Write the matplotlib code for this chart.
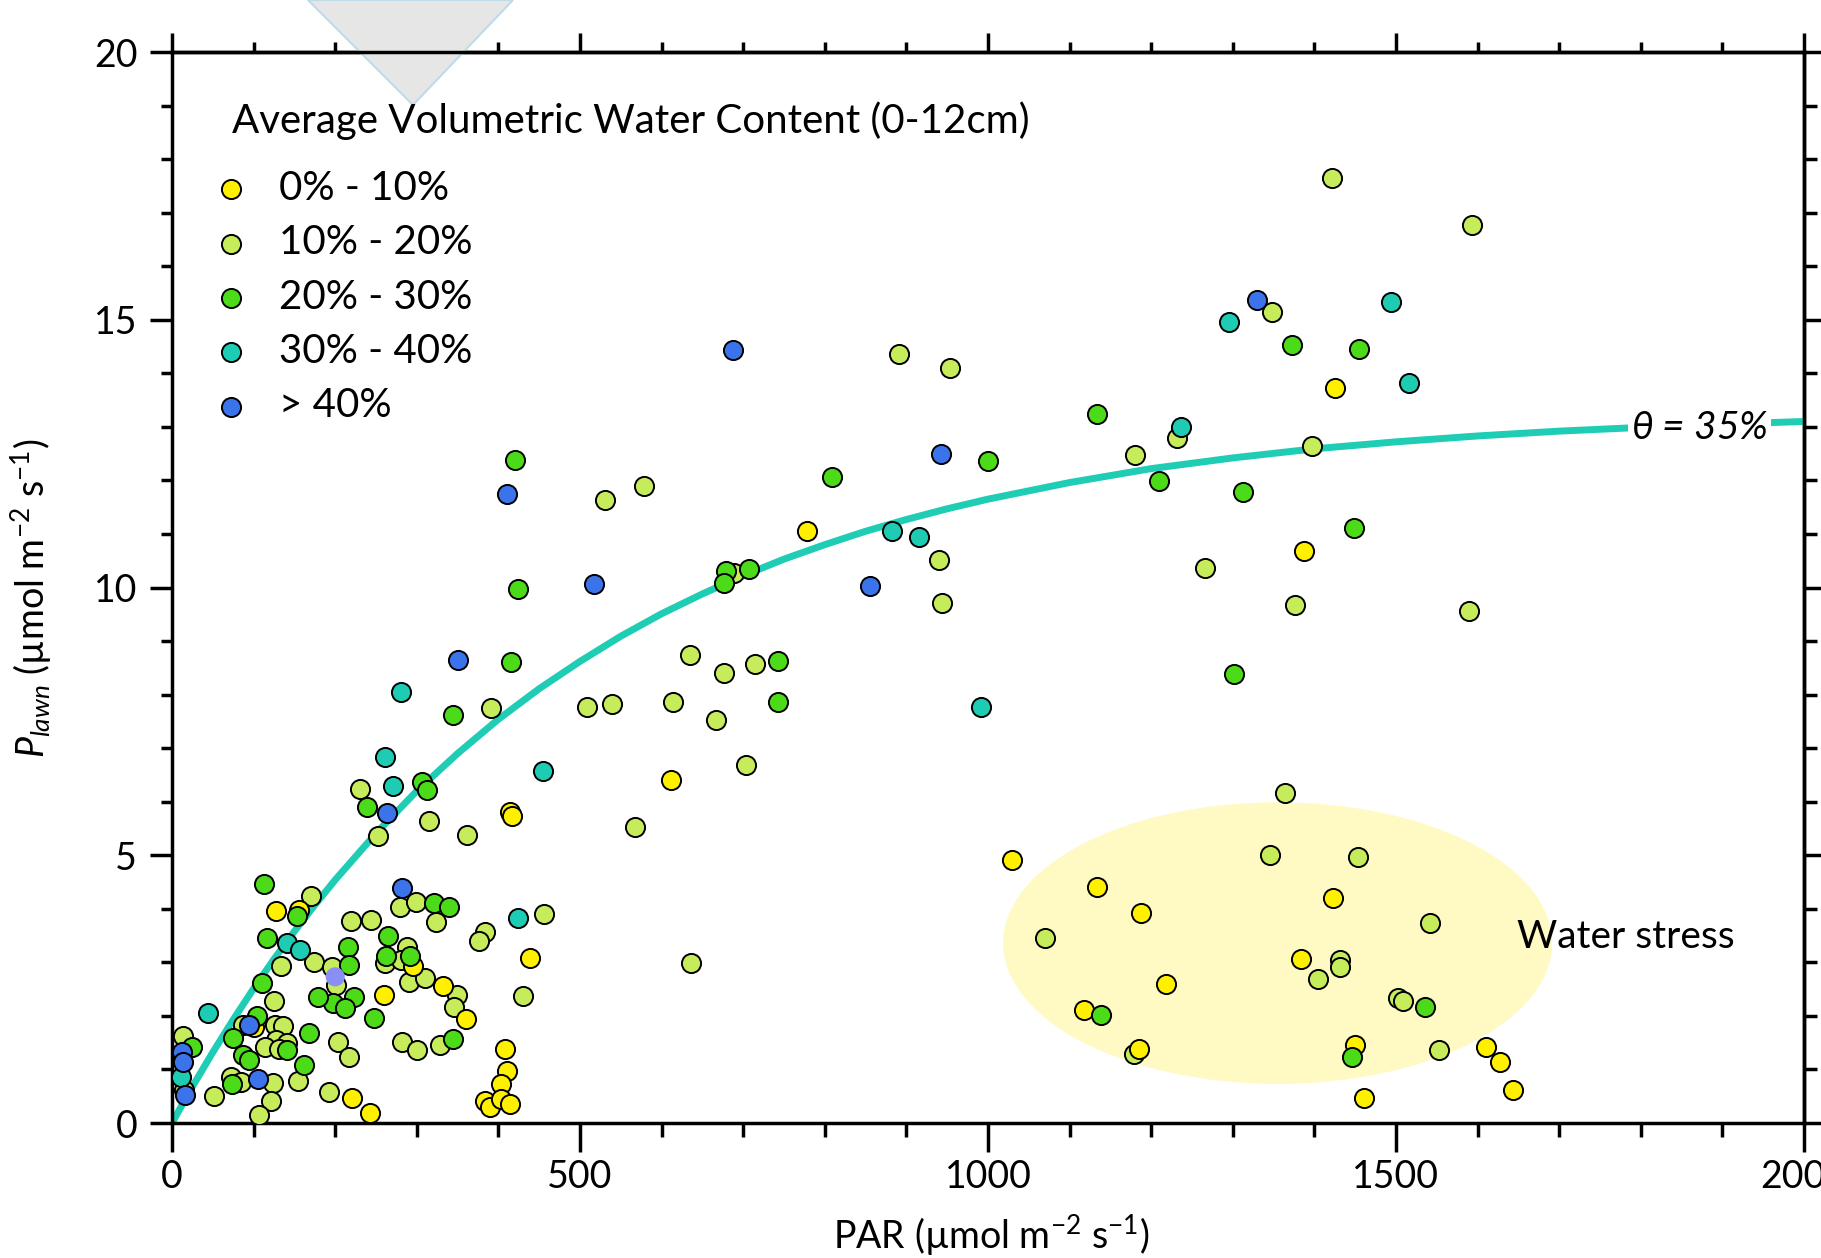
import matplotlib
matplotlib.use("Agg")
import matplotlib.pyplot as plt
from matplotlib.patches import Ellipse, Polygon
from matplotlib.ticker import MultipleLocator, NullFormatter

plt.rcParams['font.family'] = ['Lato', 'DejaVu Sans']
plt.rcParams['mathtext.fontset'] = 'custom'
plt.rcParams['mathtext.rm'] = 'Lato'
plt.rcParams['mathtext.it'] = 'Lato:italic'
plt.rcParams['mathtext.fallback'] = 'cm'

# Clases de humedad volumetrica del suelo (0-12 cm)
clases = ["0% - 10%", "10% - 20%", "20% - 30%", "30% - 40%", "> 40%"]
colores = ["#fff000", "#c6ec5c", "#4cdb19", "#1dccb3", "#3b73ea"]

# Puntos: PAR y P_lawn por clase
par_0_10 = [1425, 1387, 778, 611, 414, 417, 127, 156, 439, 295, 332, 360, 260, 220, 243,
            408, 410, 403, 383, 390, 403, 414, 101, 1029, 1134, 1187, 1423, 1384, 1218,
            1118, 1185, 1450, 1461, 1610, 1627, 1644]
p_0_10 = [13.72, 10.68, 11.06, 6.41, 5.81, 5.73, 3.95, 3.97, 3.08, 2.93, 2.55, 1.95, 2.39,
          0.46, 0.18, 1.39, 0.98, 0.72, 0.41, 0.29, 0.44, 0.35, 1.80, 4.91, 4.41, 3.93,
          4.21, 3.06, 2.60, 2.11, 1.39, 1.46, 0.46, 1.41, 1.14, 0.62]

par_10_20 = [1422, 1593, 891, 953, 1348, 1232, 1180, 1397, 1266, 1376, 1590, 531, 579, 940,
             944, 689, 635, 676, 714, 614, 667, 703, 508, 539, 391, 568, 636, 230, 315, 252,
             362, 170, 279, 299, 324, 219, 244, 383, 376, 456, 430, 174, 133, 196, 201, 261,
             288, 281, 291, 310, 349, 345, 125, 87, 126, 136, 128, 141, 114, 131, 203, 217,
             14, 15, 51, 72, 85, 124, 121, 107, 154, 192, 282, 300, 328, 1364, 1346, 1453,
             1070, 1542, 1431, 1432, 1404, 1503, 1509, 1179, 1553]
p_10_20 = [17.64, 16.77, 14.36, 14.09, 15.14, 12.79, 12.47, 12.64, 10.36, 9.67, 9.56, 11.63,
           11.90, 10.51, 9.71, 10.28, 8.74, 8.41, 8.58, 7.86, 7.53, 6.68, 7.77, 7.83, 7.75,
           5.53, 2.98, 6.23, 5.64, 5.36, 5.38, 4.23, 4.04, 4.13, 3.75, 3.77, 3.79, 3.57,
           3.39, 3.90, 2.37, 3.01, 2.93, 2.92, 2.58, 2.98, 3.28, 3.04, 2.64, 2.70, 2.39,
           2.16, 2.27, 1.83, 1.83, 1.81, 1.55, 1.49, 1.41, 1.39, 1.52, 1.23, 1.62, 0.62,
           0.50, 0.86, 0.76, 0.74, 0.42, 0.15, 0.79, 0.58, 1.52, 1.36, 1.46, 6.16, 5.00,
           4.96, 3.45, 3.73, 3.04, 2.92, 2.68, 2.34, 2.28, 1.29, 1.36]

par_20_30 = [1373, 1455, 1133, 809, 1000, 1209, 1312, 1449, 1301, 420, 424, 415, 344, 679,
             707, 676, 743, 743, 306, 312, 239, 113, 153, 321, 339, 116, 216, 217, 265, 262,
             292, 110, 223, 197, 212, 179, 248, 104, 75, 141, 168, 87, 94, 162, 25, 73, 344,
             1536, 1139, 1446]
p_20_30 = [14.52, 14.45, 13.24, 12.06, 12.36, 11.99, 11.78, 11.11, 8.39, 12.39, 9.97, 8.61,
           7.61, 10.31, 10.34, 10.08, 8.63, 7.86, 6.37, 6.22, 5.91, 4.46, 3.87, 4.10, 4.03,
           3.46, 3.29, 2.95, 3.49, 3.11, 3.12, 2.62, 2.36, 2.24, 2.14, 2.35, 1.97, 1.99,
           1.58, 1.36, 1.68, 1.27, 1.18, 1.08, 1.41, 0.73, 1.56, 2.16, 2.02, 1.23]

par_30_40 = [1295, 1494, 1516, 1236, 882, 915, 991, 281, 261, 271, 455, 424, 141, 157, 44, 11]
p_30_40 = [14.96, 15.33, 13.82, 12.99, 11.06, 10.94, 7.76, 8.04, 6.84, 6.29, 6.57, 3.82,
           3.36, 3.23, 2.06, 0.86]

par_40 = [1330, 688, 942, 855, 411, 517, 350, 264, 282, 94, 12, 13, 16, 105]
p_40 = [15.37, 14.43, 12.49, 10.03, 11.74, 10.06, 8.64, 5.78, 4.38, 1.83, 1.33, 1.13, 0.52, 0.83]

# punto aislado sin borde
par_extra = [200]
p_extra = [2.73]

# curva de respuesta a la luz para theta = 35%
par_curva = [0, 25, 50, 75, 100, 125, 150, 175, 200, 250, 300, 350, 400, 450, 500, 550,
             600, 650, 700, 750, 800, 850, 900, 950, 1000, 1100, 1200, 1300, 1400, 1500,
             1600, 1700, 1800, 1900, 2000]
p_curva = [0, 0.68, 1.32, 1.93, 2.51, 3.06, 3.58, 4.07, 4.54, 5.41, 6.20, 6.90, 7.54, 8.11,
           8.62, 9.09, 9.51, 9.88, 10.22, 10.53, 10.80, 11.05, 11.27, 11.47, 11.65, 11.96,
           12.22, 12.42, 12.59, 12.72, 12.83, 12.92, 12.99, 13.05, 13.10]

# zona de estres hidrico
estres_centro = (1355, 3.36)
estres_ancho = 673
estres_alto = 5.26

fs = 27
fs_leg = 29
fig = plt.figure(figsize=(18.21, 12.58), dpi=100)
ax = fig.add_axes([0.09445, 0.10731, 0.8962, 0.85135])

# triangulo gris en la parte superior
tri = Polygon([(308 / 1821, 1.0), (513 / 1821, 1.0), (413 / 1821, 1 - 105 / 1258)],
              closed=True, transform=fig.transFigure, facecolor="#e6e6e6",
              edgecolor="#bfdbe8", lw=1.5, clip_on=False, zorder=0.5)
ax.add_patch(tri)

ax.add_patch(Ellipse(estres_centro, estres_ancho, estres_alto, facecolor="#fffac4",
                     edgecolor="none", zorder=1))

ax.plot(par_curva, p_curva, color="#1fcdb4", lw=5, zorder=2, solid_capstyle="butt",
        solid_joinstyle="round")

s = 190
kw = dict(s=s, edgecolors="black", linewidths=1.4, zorder=3)
h1 = ax.scatter(par_10_20, p_10_20, color=colores[1], label=clases[1], **kw)
h0 = ax.scatter(par_0_10, p_0_10, color=colores[0], label=clases[0], **kw)
h2 = ax.scatter(par_20_30, p_20_30, color=colores[2], label=clases[2], **kw)
h3 = ax.scatter(par_30_40, p_30_40, color=colores[3], label=clases[3], **kw)
h4 = ax.scatter(par_40, p_40, color=colores[4], label=clases[4], **kw)
ax.scatter(par_extra, p_extra, s=s, color="#8a8ff5", edgecolors="none", zorder=3.5)

ax.set_xlim(0, 2000)
ax.set_ylim(0, 20)
ax.xaxis.set_major_locator(MultipleLocator(500))
ax.xaxis.set_minor_locator(MultipleLocator(100))
ax.yaxis.set_major_locator(MultipleLocator(5))
ax.yaxis.set_minor_locator(MultipleLocator(1))

for sp in ax.spines.values():
    sp.set_linewidth(2.5)
ax.tick_params(top=False, right=False, labelsize=fs)
ax.tick_params(axis="x", which="major", length=21, width=2.5, pad=5)
ax.tick_params(axis="x", which="minor", length=10, width=2.5)
ax.tick_params(axis="y", which="major", length=16, width=2.5, pad=9)
ax.tick_params(axis="y", which="minor", length=8, width=2.5)

# ticks superiores y derechos
secx = ax.secondary_xaxis("top")
secx.xaxis.set_major_locator(MultipleLocator(500))
secx.xaxis.set_minor_locator(MultipleLocator(100))
secx.xaxis.set_major_formatter(NullFormatter())
secx.tick_params(which="major", length=14, width=2.5)
secx.tick_params(which="minor", length=7, width=2.5)
secx.spines["top"].set_linewidth(2.5)

secy = ax.secondary_yaxis("right")
secy.yaxis.set_major_locator(MultipleLocator(5))
secy.yaxis.set_minor_locator(MultipleLocator(1))
secy.yaxis.set_major_formatter(NullFormatter())
secy.tick_params(which="major", length=12, width=2.5)
secy.tick_params(which="minor", length=9, width=2.5)
secy.spines["right"].set_linewidth(2.5)

ax.set_xlabel("PAR (µmol m$^{-2}$ s$^{-1}$)", fontsize=fs, va="center")
ax.xaxis.set_label_coords(0.502, -0.1046)
ax.set_ylabel("$P_{lawn}$ (µmol m$^{-2}$ s$^{-1}$)", fontsize=fs, va="center")
ax.yaxis.set_label_coords(-0.0864, 0.49)

ax.text(0.0368, 0.9356, "Average Volumetric Water Content (0-12cm)", fontsize=fs_leg,
        transform=ax.transAxes, ha="left", va="center", zorder=4)
ax.legend(handles=[h0, h1, h2, h3, h4], loc="upper left", bbox_to_anchor=(0.03125, 0.8898),
          frameon=False, fontsize=fs_leg, borderpad=0, borderaxespad=0, handlelength=0.4,
          handletextpad=0.99, labelspacing=0.43, scatterpoints=1, markerscale=1)

ax.text(1872, 12.97, r"$\theta$ = 35%", fontsize=28, style="italic", ha="center",
        va="center", zorder=4,
        bbox=dict(boxstyle="square,pad=0.08", facecolor="white", edgecolor="none"))
ax.text(1648, 3.48, "Water stress", fontsize=28, ha="left", va="center", zorder=4)

fig.savefig("out.png", dpi=100)
